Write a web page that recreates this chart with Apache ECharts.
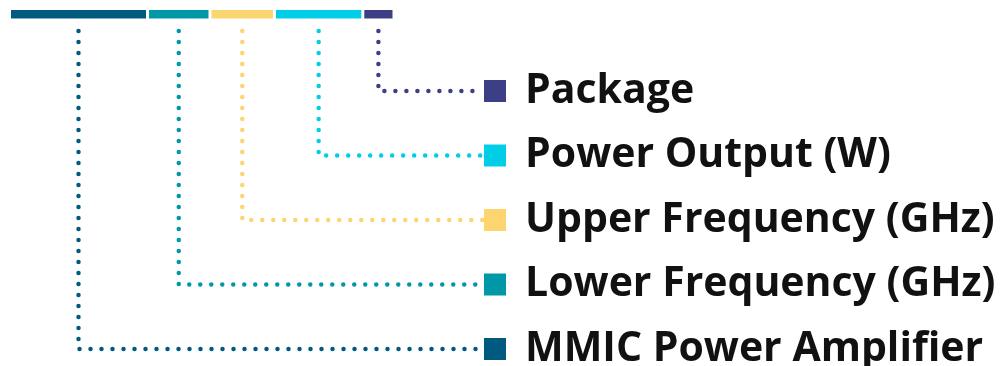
<!DOCTYPE html>
<html>
<head>
<meta charset="utf-8">
<script src="https://cdn.jsdelivr.net/npm/echarts@6/dist/echarts.min.js"></script>
<style>
html,body{margin:0;padding:0;background:#fff;}
#chart{width:1002px;height:366px;}
</style>
</head>
<body>
<div id="chart"></div>
<script>
// Segments of the part-number bar (left to right)
const segmentNames = ['MMIC Power Amplifier', 'Lower Frequency (GHz)', 'Upper Frequency (GHz)', 'Power Output (W)', 'Package'];
const segmentWidths = [138, 62.5, 64.5, 88.3, 31.2];
const segmentColors = ['#005a80', '#0097a7', '#fdd570', '#00cee6', '#3c3f85'];

// layout constants (pixels)
const X0 = 9.5, BAR_TOP = 10, BAR_BOT = 18.5, LINE_TOP = 31;
const ROW_FIRST = 91, ROW_STEP = 64.5, SQ_X = 495, LINE_END = 483;

const starts = [];
let acc = 0;
segmentWidths.forEach(w => { starts.push(acc); acc += w; });

const n = segmentNames.length;
const rowY = i => ROW_FIRST + (n - 1 - i) * ROW_STEP;

const series = [];
series.push({
  type: 'custom',
  silent: true,
  data: segmentWidths.map((w, i) => [starts[i], starts[i] + w, i]),
  renderItem: (params, api) => {
    const a = api.coord([X0 + api.value(0), BAR_TOP]);
    const b = api.coord([X0 + api.value(1), BAR_BOT]);
    return {
      type: 'rect',
      shape: { x: a[0] + 1.5, y: a[1], width: b[0] - a[0] - 3, height: b[1] - a[1] },
      style: { fill: segmentColors[api.value(2)] }
    };
  }
});

segmentWidths.forEach((w, i) => {
  const cx = X0 + starts[i] + w / 2;
  series.push({
    type: 'line',
    silent: true,
    showSymbol: false,
    data: [[cx, LINE_TOP], [cx, rowY(i)], [LINE_END, rowY(i)]],
    lineStyle: { color: segmentColors[i], width: 4.5, type: [0, 11], cap: 'round', join: 'round' }
  });
});

series.push({
  type: 'scatter',
  silent: true,
  symbol: 'rect',
  symbolSize: 22,
  itemStyle: { opacity: 1 },
  data: segmentNames.map((name, i) => ({
    value: [SQ_X, rowY(i)],
    name: name,
    itemStyle: { color: segmentColors[i], opacity: 1 }
  })),
  label: {
    show: true,
    position: 'right',
    distance: 19,
    formatter: p => p.name,
    color: '#111111',
    opacity: 1,
    fontFamily: 'Open Sans',
    fontWeight: 'bold',
    fontSize: 41
  }
});

const chart = echarts.init(document.getElementById('chart'), null, { renderer: 'canvas' });
chart.setOption({
  animation: false,
  grid: { left: 0, right: 0, top: 0, bottom: 0 },
  xAxis: { type: 'value', min: 0, max: 1002, show: false },
  yAxis: { type: 'value', min: 0, max: 366, inverse: true, show: false },
  series: series
});
</script>
</body>
</html>
